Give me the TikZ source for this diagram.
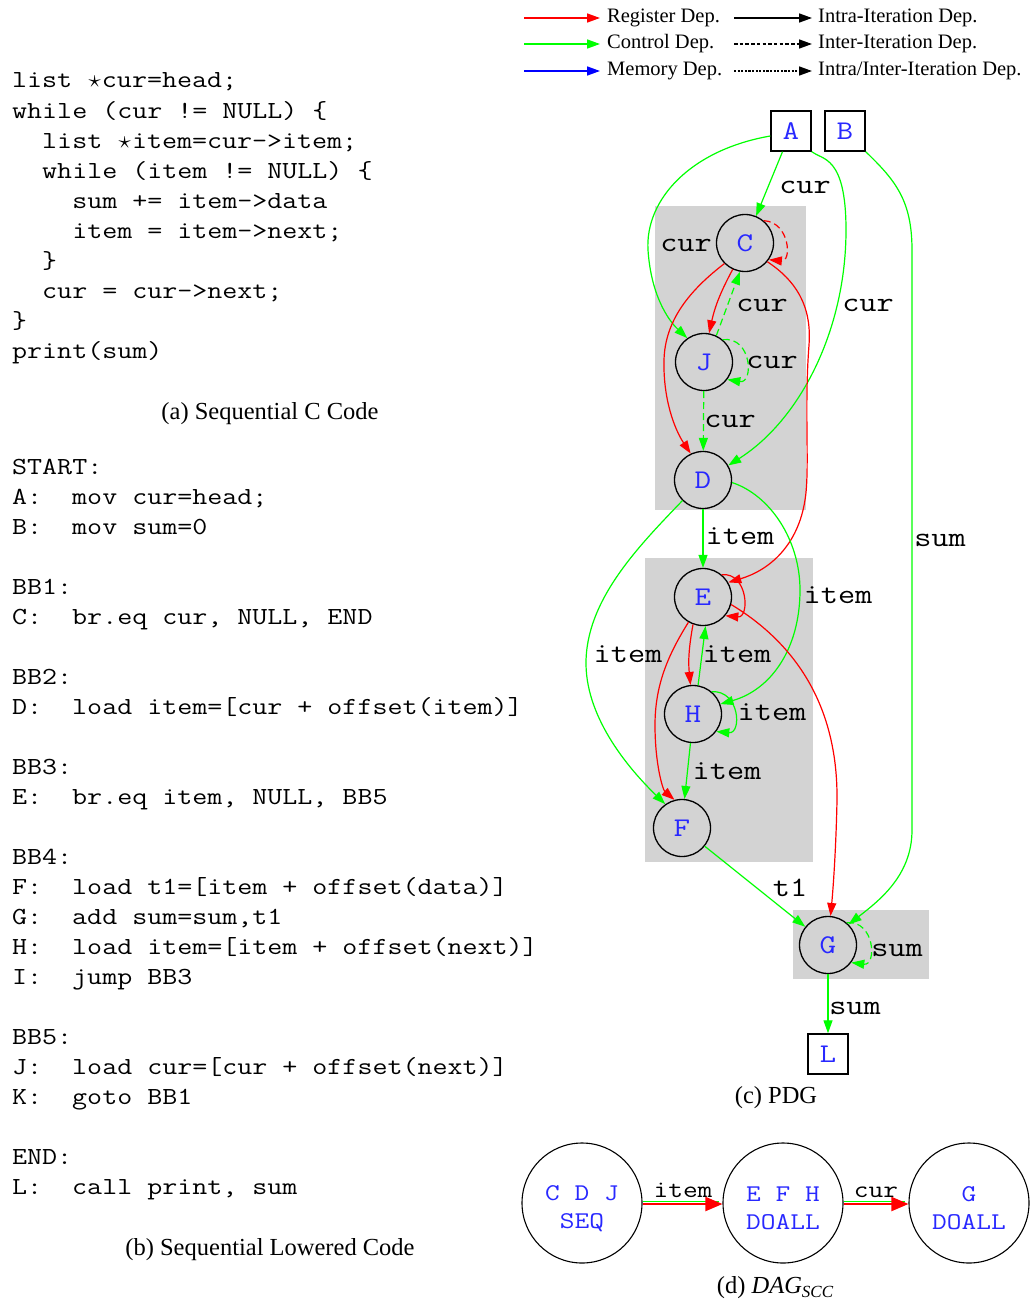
\documentclass[tikz,border=0pt]{standalone}
\usepackage{fontspec}
\setmainfont{Liberation Serif}
\setmonofont[FakeStretch=1.19]{Latin Modern Mono}
\usetikzlibrary{arrows.meta}

\definecolor{regred}{RGB}{255,0,0}
\definecolor{ctlgreen}{RGB}{0,255,0}
\definecolor{memblue}{RGB}{0,0,255}
\definecolor{idblue}{RGB}{40,40,255}
\definecolor{sccgray}{RGB}{211,211,211}

% a monospaced-width star for pointer declarations
\newcommand{\ptrstar}{\makebox[0.6em]{$\star$}}

\begin{document}
\begin{tikzpicture}[x=1pt,y=1pt,
  codeline/.style={anchor=base west, inner sep=0, font=\fontsize{24.5}{30}\selectfont\ttfamily},
  caption/.style={inner sep=0, font=\fontsize{24.5}{30}\selectfont},
  legtext/.style={anchor=west, inner sep=0, font=\fontsize{20.5}{22}\selectfont},
  legarrow/.style={line width=1.7, -{Triangle[length=13pt,width=9pt]}},
  edge/.style={line width=1.2, -{Triangle[length=13pt,width=9pt]}},
  reg/.style={edge, draw=regred},
  ctl/.style={edge, draw=ctlgreen},
  dsh/.style={dash pattern=on 7pt off 4pt},
  op/.style={circle, draw, line width=1.3, minimum size=57, inner sep=0,
    text=idblue, font=\fontsize{27}{27}\selectfont\ttfamily},
  io/.style={rectangle, draw, line width=1.4, minimum size=40, inner sep=0,
    text=idblue, font=\fontsize{27}{27}\selectfont\ttfamily},
  lbl/.style={anchor=base, inner sep=0, font=\fontsize{28}{28}\selectfont\ttfamily},
  sccnode/.style={circle, draw, line width=1.1, minimum size=120, inner sep=0,
    align=center, text=idblue, font=\fontsize{24}{28}\selectfont\ttfamily},
  dlbl/.style={anchor=base, inner sep=0, font=\fontsize{24}{24}\selectfont\ttfamily},
]
\path[use as bounding box] (0,0) rectangle (1032,-1303);

% ---------------- (a) sequential C code ----------------
\foreach \i/\t in {
  0/{list \ptrstar cur=head;},
  1/{while (cur != NULL) \{},
  2/{\phantom{xx}list \ptrstar item=cur->item;},
  3/{\phantom{xx}while (item != NULL) \{},
  4/{\phantom{xxxx}sum += item->data},
  5/{\phantom{xxxx}item = item->next;},
  6/{\phantom{xx}\}},
  7/{\phantom{xx}cur = cur->next;},
  8/{\}},
  9/{print(sum)}}
  \node[codeline] (ca\i) at (12,{-88-30*\i}) {\t};
\node[caption] (capa) at (270,-414) {(a) Sequential C Code};

% ---------------- (b) lowered code ----------------
\foreach \i/\t in {
  0/{START:},
  1/{A:\phantom{xx}mov cur=head;},
  2/{B:\phantom{xx}mov sum=0},
  4/{BB1:},
  5/{C:\phantom{xx}br.eq cur, NULL, END},
  7/{BB2:},
  8/{D:\phantom{xx}load item=[cur + offset(item)]},
  10/{BB3:},
  11/{E:\phantom{xx}br.eq item, NULL, BB5},
  13/{BB4:},
  14/{F:\phantom{xx}load t1=[item + offset(data)]},
  15/{G:\phantom{xx}add sum=sum,t1},
  16/{H:\phantom{xx}load item=[item + offset(next)]},
  17/{I:\phantom{xx}jump BB3},
  19/{BB5:},
  20/{J:\phantom{xx}load cur=[cur + offset(next)]},
  21/{K:\phantom{xx}goto BB1},
  23/{END:},
  24/{L:\phantom{xx}call print, sum}}
  \node[codeline] (cb\i) at (12,{-474-30*\i}) {\t};
\node[caption] (capb) at (270,-1250) {(b) Sequential Lowered Code};

% ---------------- legend ----------------
\coordinate (lr0) at (524,-18); \coordinate (lr1) at (600,-18);
\coordinate (lg0) at (524,-44); \coordinate (lg1) at (600,-44);
\coordinate (lb0) at (524,-71); \coordinate (lb1) at (600,-71);
\coordinate (li0) at (734,-18); \coordinate (li1) at (812,-18);
\coordinate (le0) at (734,-44); \coordinate (le1) at (812,-44);
\coordinate (lx0) at (734,-71); \coordinate (lx1) at (812,-71);
\draw[legarrow, draw=regred] (lr0) -- (lr1);
\draw[legarrow, draw=ctlgreen] (lg0) -- (lg1);
\draw[legarrow, draw=memblue] (lb0) -- (lb1);
\draw[legarrow, draw=black] (li0) -- (li1);
\draw[legarrow, draw=black, dash pattern=on 3.5pt off 2.2pt] (le0) -- (le1);
\draw[legarrow, draw=black, dash pattern=on 2.2pt off 1.4pt] (lx0) -- (lx1);
\node[legtext] (tReg) at (607,-18) {Register Dep.};
\node[legtext] (tCtl) at (607,-44) {Control Dep.};
\node[legtext] (tMem) at (607,-71) {Memory Dep.};
\node[legtext] (tIntra) at (818,-18) {Intra-Iteration Dep.};
\node[legtext] (tInter) at (818,-44) {Inter-Iteration Dep.};
\node[legtext] (tBoth) at (818,-71) {Intra/Inter-Iteration Dep.};

% ---------------- (c) PDG ----------------
% strongly connected components
\fill[sccgray] (655,-206) rectangle (806,-510);
\fill[sccgray] (645,-558) rectangle (813,-862);
\fill[sccgray] (793,-910) rectangle (929,-979);

\node[io] (A) at (791,-131) {A};
\node[io] (B) at (845,-131) {B};
\node[op] (C) at (745,-243) {C};
\node[op] (J) at (704,-362) {J};
\node[op] (D) at (703,-480) {D};
\node[op] (E) at (703,-597) {E};
\node[op] (H) at (693,-714) {H};
\node[op] (F) at (682,-828) {F};
\node[op] (G) at (828,-945) {G};
\node[io] (L) at (828,-1054) {L};

% edges out of the entry block
\draw[ctl] (A) -- (C);
\draw[ctl] ([yshift=-5pt]A.west) .. controls (690,-150) and (645,-200) .. (648,-250)
  .. controls (651,-295) and (668,-320) .. (J.125);
\draw[ctl] (A.south east) .. controls (822,-160) and (846,-155) .. (846,-230)
  .. controls (846,-330) and (800,-420) .. (D.30);
\draw[ctl] (B.south east) .. controls (895,-180) and (912,-200) .. (912,-250)
  -- (912,-830) .. controls (912,-875) and (880,-900) .. (G.45);

% outer loop
\draw[reg, dsh] (C.50) .. controls (790,-222) and (792,-262) .. (C.-35);
\draw[reg] (C.245) to[bend right=8] (J.80);
\draw[ctl, dsh] (J.65) -- (C.-100);
\draw[reg] (C.225) .. controls (690,-290) and (665,-320) .. (664,-360)
  .. controls (663,-400) and (675,-430) .. (D.115);
\draw[reg] (C.-40) .. controls (795,-280) and (812,-305) .. (809,-345)
  .. controls (804,-410) and (810,-470) .. (805,-500)
  .. controls (798,-545) and (770,-570) .. (E.30);
\draw[ctl, dsh] (J.50) .. controls (752,-336) and (754,-384) .. (J.-37);
\draw[ctl, dsh] (J) -- (D);

% inner loop
\draw[ctl] (D) -- (E);
\draw[ctl] (D.225) .. controls (640,-545) and (585,-600) .. (586,-665)
  .. controls (587,-720) and (630,-770) .. (F.125);
\draw[ctl] (D.-5) .. controls (770,-495) and (800,-540) .. (800,-590)
  .. controls (800,-650) and (770,-690) .. (H.20);
\draw[reg] (E.50) .. controls (748,-572) and (750,-618) .. (E.-40);
\draw[reg] (E.250) to[bend right=8] (H.95);
\draw[ctl] (H.80) -- (E.-85);
\draw[reg] (E.240) .. controls (668,-655) and (655,-685) .. (655,-725)
  .. controls (655,-765) and (663,-790) .. (F.105);
\draw[reg] (E.-15) .. controls (790,-640) and (838,-700) .. (837,-800)
  .. controls (836,-850) and (833,-890) .. (G.85);
\draw[ctl] (H.50) .. controls (740,-690) and (742,-734) .. (H.-37);
\draw[ctl] (H.-95) -- (F.85);

% reduction
\draw[ctl] (F) -- (G);
\draw[ctl, dsh] (G.50) .. controls (875,-920) and (877,-966) .. (G.-37);
\draw[ctl] (G) -- (L);

% edge labels
\node[lbl] (lAC) at (805,-193) {cur};
\node[lbl] (lAJ) at (686,-251) {cur};
\node[lbl] (lAD) at (868,-311) {cur};
\node[lbl] (lJC) at (762,-311) {cur};
\node[lbl] (lJJ) at (772,-368) {cur};
\node[lbl] (lJD) at (730,-427) {cur};
\node[lbl] (lBG) at (940,-546) {sum};
\node[lbl] (lDE) at (740,-544) {item};
\node[lbl] (lDH) at (838,-603) {item};
\node[lbl] (lDF) at (628,-662) {item};
\node[lbl] (lHE) at (737,-662) {item};
\node[lbl] (lHH) at (772,-720) {item};
\node[lbl] (lHF) at (727,-779) {item};
\node[lbl] (lFG) at (790,-896) {t1};
\node[lbl] (lGG) at (897,-956) {sum};
\node[lbl] (lGL) at (855,-1014) {sum};

\node[caption] (capc) at (776,-1098) {(c) PDG};

% ---------------- (d) DAG of SCCs ----------------
\node[sccnode] (s1) at (582,-1203) {\rule{0pt}{26pt}C D J\\SEQ};
\node[sccnode] (s2) at (783,-1203) {\rule{0pt}{26pt}E F H\\DOALL};
\node[sccnode] (s3) at (969,-1203) {\rule{0pt}{26pt}G\\DOALL};
\draw[draw=ctlgreen, line width=1.2] ([yshift=1.4pt]s1.east) -- ([yshift=1.4pt,xshift=-3pt]s2.west);
\draw[draw=regred, line width=2, -{Triangle[length=17pt,width=14pt]}] ([yshift=-1pt]s1.east) -- ([yshift=-1pt]s2.west);
\draw[draw=ctlgreen, line width=1.2] ([yshift=1.4pt]s2.east) -- ([yshift=1.4pt,xshift=-3pt]s3.west);
\draw[draw=regred, line width=2, -{Triangle[length=17pt,width=14pt]}] ([yshift=-1pt]s2.east) -- ([yshift=-1pt]s3.west);
\node[dlbl] (d12) at (683,-1197) {item};
\node[dlbl] (d23) at (876,-1197) {cur};

\node[caption] (capd) at (775,-1288) {(d) \textit{DAG}\raisebox{-0.35ex}{\fontsize{17}{17}\selectfont\itshape SCC}};
\end{tikzpicture}
\end{document}
